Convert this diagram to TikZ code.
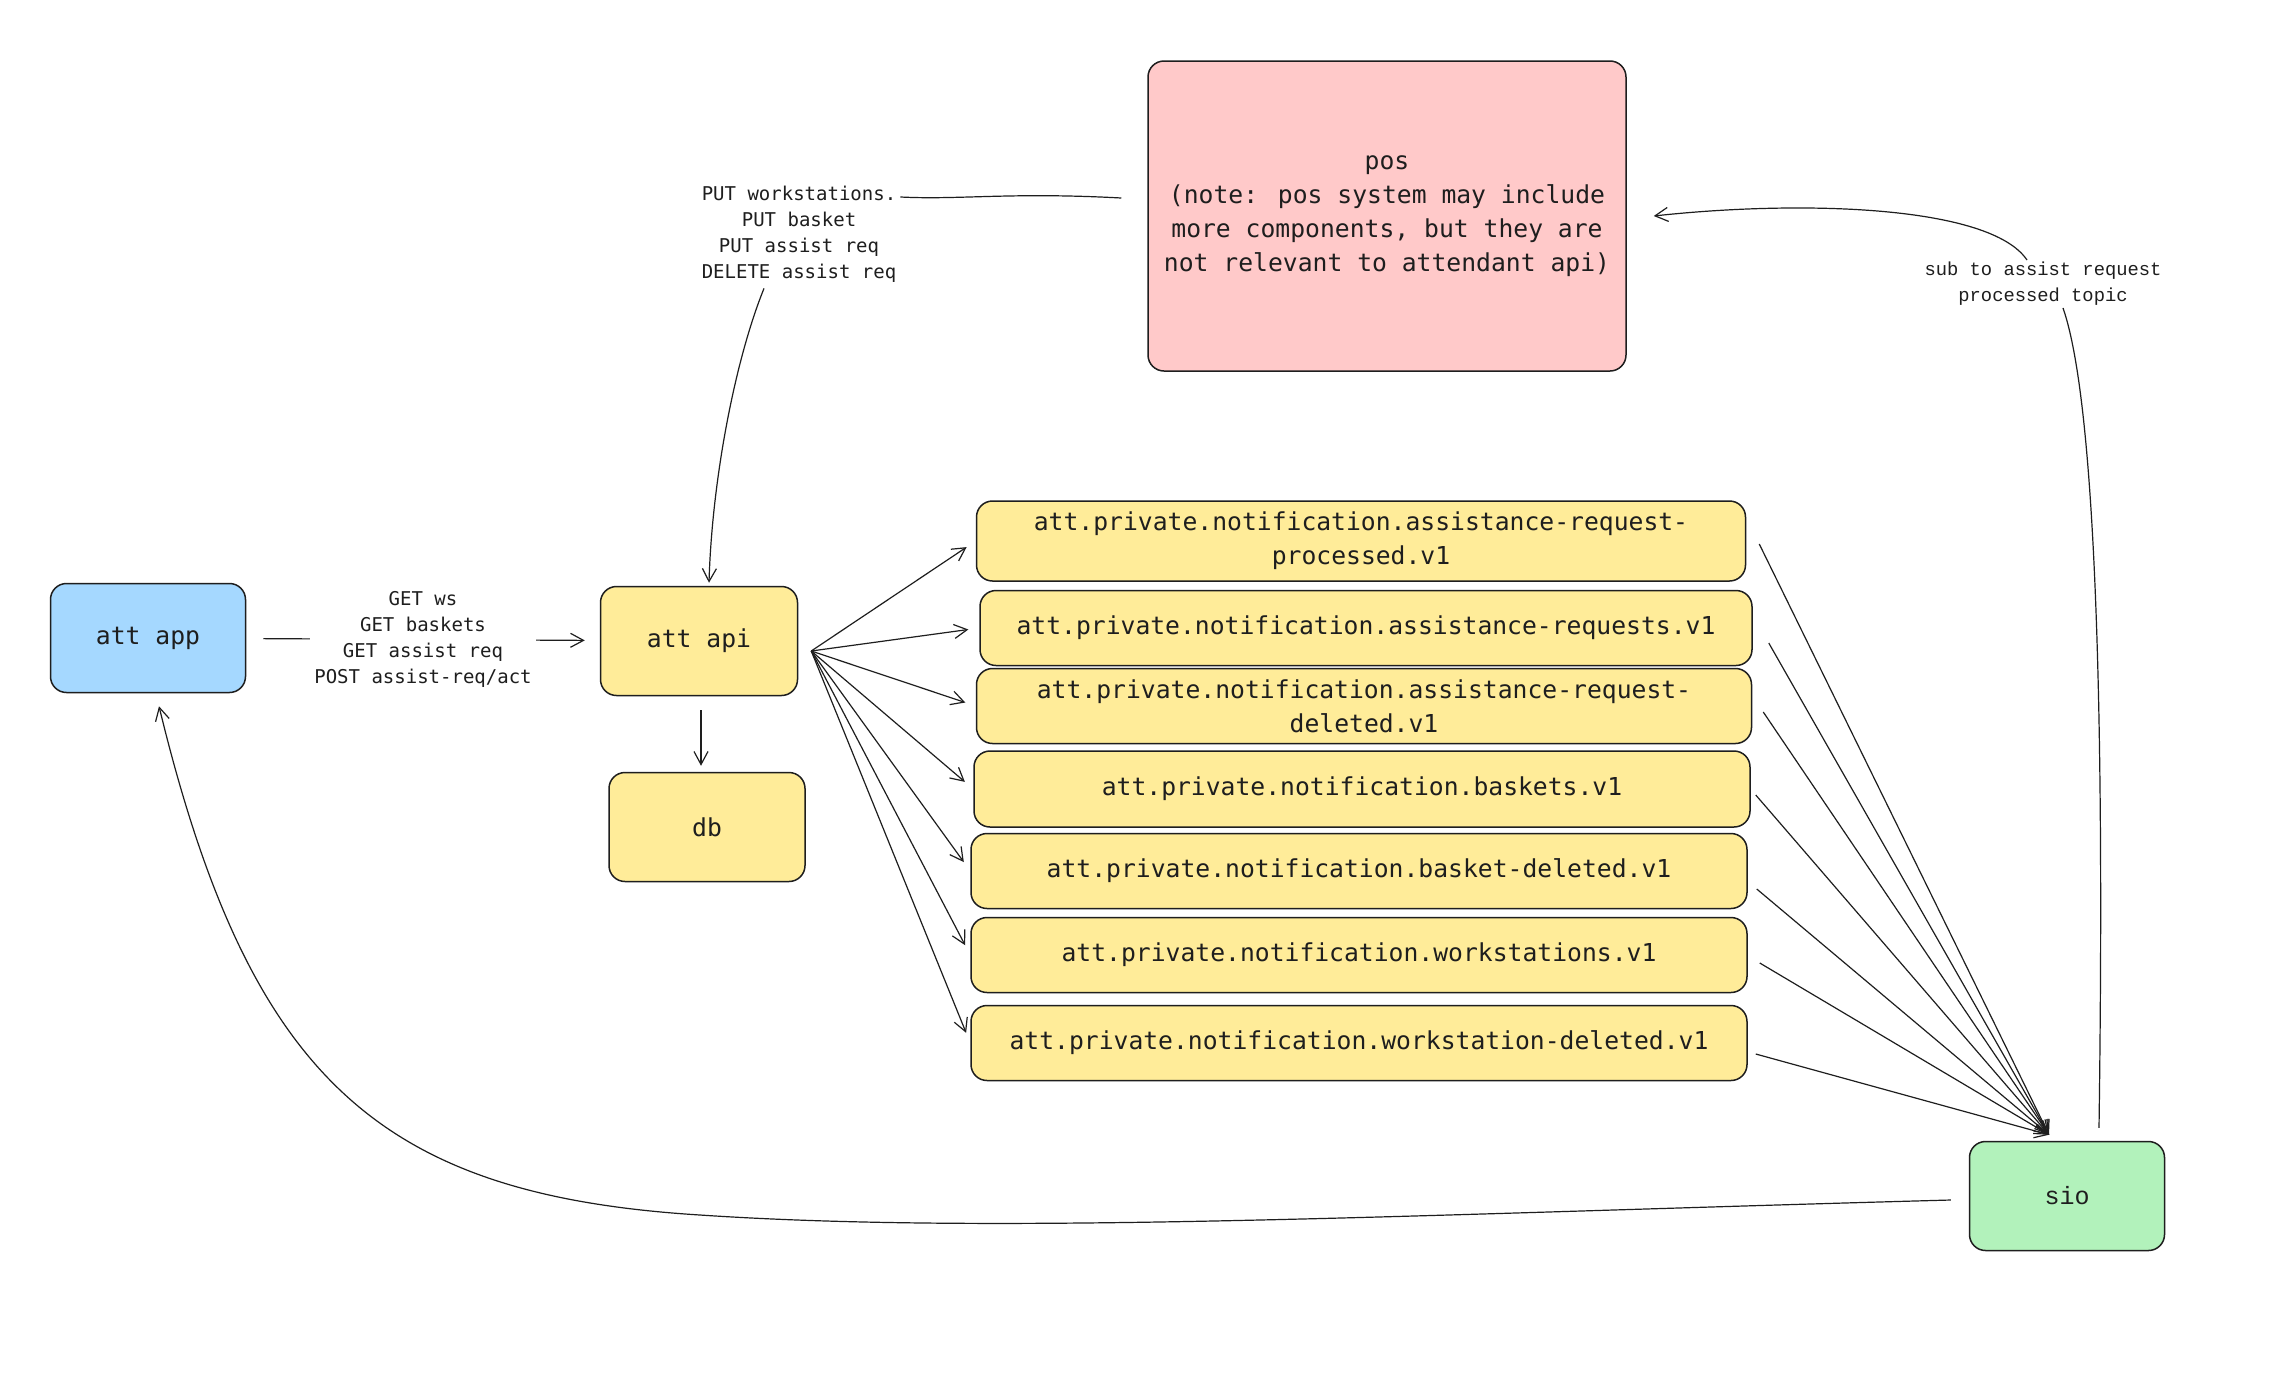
\documentclass[tikz,border=0pt]{standalone}
\usepackage{fontspec}
\newfontfamily\handfont{DejaVu Sans Mono}
\newfontfamily\codefont{Liberation Mono}
\usetikzlibrary{arrows.meta}
\definecolor{ink}{HTML}{1E1E1E}
\definecolor{appblue}{HTML}{A5D8FF}
\definecolor{apiyellow}{HTML}{FFEC99}
\definecolor{posred}{HTML}{FFC9C9}
\definecolor{siogreen}{HTML}{B2F2BB}
\begin{document}
\begin{tikzpicture}[x=1pt,y=-1pt,
  box/.style={draw=ink, line width=1.5pt, rounded corners=16pt, align=center, inner sep=0pt, text=ink,
    font=\handfont\fontsize{24.7}{34}\selectfont},
  arr/.style={-{Straight Barb[length=13pt,width=14pt]}, line width=1.2pt, draw=ink},
  plain/.style={line width=1.2pt, draw=ink},
  lbl/.style={font=\handfont\fontsize{19}{26}\selectfont, align=center, text=ink, inner sep=0pt},
  codelbl/.style={font=\codefont\fontsize{18.8}{26}\selectfont, align=center, text=ink, inner sep=0pt}]
\useasboundingbox (0,0) rectangle (2270,1382);
\fill[white] (0,0) rectangle (2270,1382);

% main nodes
\node[box, fill=appblue, minimum width=195pt, minimum height=109pt] (app) at (148,638) {att app};
\node[box, fill=apiyellow, minimum width=197pt, minimum height=109pt] (api) at (699,641) {att api};
\node[box, fill=apiyellow, minimum width=196pt, minimum height=109pt] (db) at (707,827) {db};
\node[box, fill=posred, minimum width=478pt, minimum height=310pt] (pos) at (1387,216)
  {pos\\(note: pos system may include\\more components, but they are\\not relevant to attendant api)};
\node[box, fill=siogreen, minimum width=195pt, minimum height=109pt,
  font=\codefont\fontsize{25}{30}\selectfont] (sio) at (2067,1196) {sio};

% topics
\node[box, fill=apiyellow, minimum width=769pt, minimum height=80pt] (t1) at (1361,541)
  {att.private.notification.assistance-request-\\processed.v1};
\node[box, fill=apiyellow, minimum width=772pt, minimum height=75pt] (t2) at (1366,628)
  {att.private.notification.assistance-requests.v1};
\node[box, fill=apiyellow, minimum width=775pt, minimum height=75pt] (t3) at (1364,706)
  {att.private.notification.assistance-request-\\deleted.v1};
\node[box, fill=apiyellow, minimum width=776pt, minimum height=76pt] (t4) at (1362,789)
  {att.private.notification.baskets.v1};
\node[box, fill=apiyellow, minimum width=776pt, minimum height=75pt] (t5) at (1359,871)
  {att.private.notification.basket-deleted.v1};
\node[box, fill=apiyellow, minimum width=776pt, minimum height=75pt] (t6) at (1359,955)
  {att.private.notification.workstations.v1};
\node[box, fill=apiyellow, minimum width=776pt, minimum height=75pt] (t7) at (1359,1043)
  {att.private.notification.workstation-deleted.v1};

% app -> api
\draw[arr, shorten <=17pt, shorten >=15pt] (app) -- node[lbl, fill=white, inner sep=4pt] (getlbl)
  {GET ws\\GET baskets\\GET assist req\\POST assist-req/act} (api);

% api -> db
\draw[arr, shorten <=14pt, shorten >=6pt] ([xshift=2pt]api.south) -- ([xshift=2pt]api.south |- db.north);

% pos -> api
\node[lbl] (poslbl) at (799,234) {PUT workstations.\\PUT basket\\PUT assist req\\DELETE assist req};
\draw[plain] ([xshift=-26pt,yshift=18pt]pos.west) .. controls (1010,192) and (960,200) .. ([xshift=4pt,yshift=37pt]poslbl.east);
\draw[arr] ([xshift=-35pt,yshift=-6pt]poslbl.south) .. controls (735,360) and (712,480) .. ([xshift=10pt,yshift=3pt]api.north);

% api -> topics
\coordinate (apiout) at ([xshift=13pt,yshift=-10pt]api.east);
\foreach \t in {t1,t2,t3,t4,t5,t6,t7}
  \draw[arr, shorten >=11pt] (apiout) -- (\t.west);

% topics -> sio
\coordinate (siotop) at ([xshift=-18pt,yshift=6pt]sio.north);
\draw[arr] ([xshift=13pt,yshift=-3pt]t1.east) -- (siotop);
\draw[arr] ([xshift=16pt,yshift=-15pt]t2.east) -- (siotop);
\draw[arr] ([xshift=11pt,yshift=-6pt]t3.east) -- (siotop);
\draw[arr] ([xshift=5pt,yshift=-6pt]t4.east) -- (siotop);
\draw[arr] ([xshift=9pt,yshift=-18pt]t5.east) -- (siotop);
\draw[arr] ([xshift=12pt,yshift=-8pt]t6.east) -- (siotop);
\draw[arr] ([xshift=8pt,yshift=-11pt]t7.east) -- (siotop);

% sio -> pos
\node[codelbl] (siolbl) at (2043,284) {sub to assist request\\processed topic};
\draw[plain] ([xshift=32pt,yshift=13pt]sio.north) .. controls (2105,700) and (2095,400) .. ([xshift=20pt,yshift=-2pt]siolbl.south);
\draw[arr] ([xshift=-16pt,yshift=2pt]siolbl.north) .. controls (1990,205) and (1800,200) .. ([xshift=27pt]pos.east);

% sio -> app
\draw[arr] ([xshift=-18pt,yshift=-4pt]sio.west) .. controls (1400,1215) and (1000,1235) .. (700,1215)
  .. controls (380,1195) and (250,1080) .. ([xshift=11pt,yshift=-13pt]app.south);
\end{tikzpicture}
\end{document}
